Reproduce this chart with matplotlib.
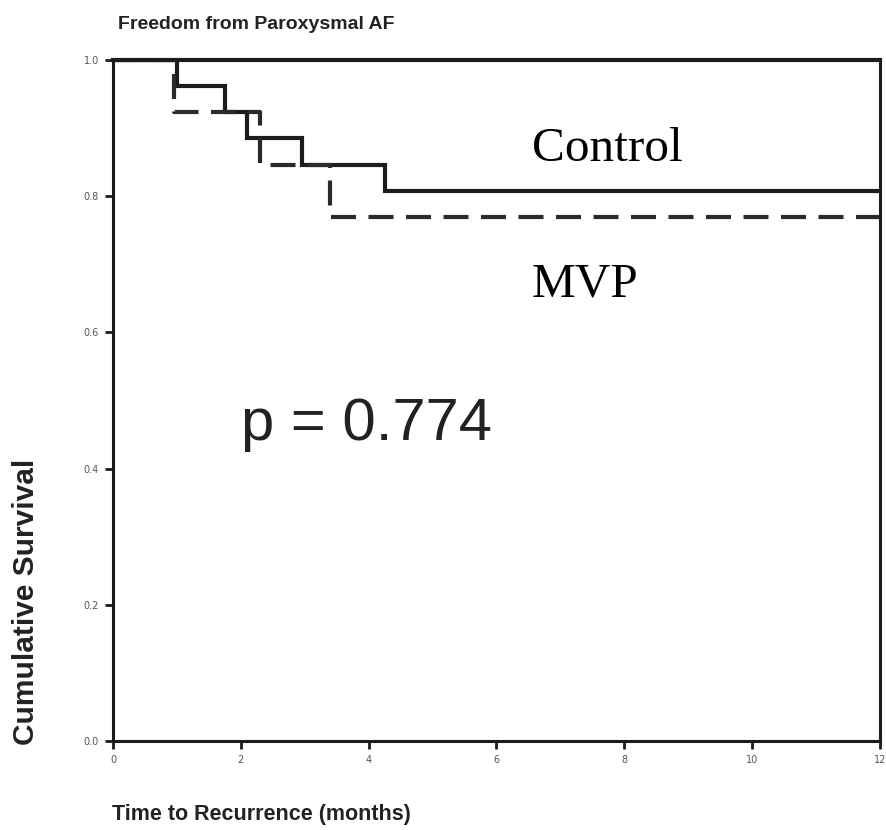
"""
Kaplan-Meier curves: freedom from paroxysmal AF, control vs MVP groups.
"""

import numpy as np
import matplotlib.pyplot as plt

# Event times (months) and survival after each event
control_times = [1.0, 1.75, 2.1, 2.95, 4.25]
control_surv = [0.962, 0.923, 0.885, 0.846, 0.808]
mvp_times = [0.95, 2.3, 3.4]
mvp_surv = [0.923, 0.846, 0.769]

follow_up = 12
x_ticks = [0, 2, 4, 6, 8, 10, 12]
y_ticks = [0.0, 0.2, 0.4, 0.6, 0.8, 1.0]
p_value = 0.774

INK = '#1c1c1c'


def km_steps(times, surv, end):
    """Build step coordinates starting from 1.0 at time 0."""
    x = [0] + list(times) + [end]
    y = [1.0] + list(surv) + [surv[-1]]
    return x, y


fig = plt.figure(figsize=(8.87, 8.3), dpi=100)
ax = fig.add_axes([0.1274, 0.1072, 0.8646, 0.8205])

cx, cy = km_steps(control_times, control_surv, follow_up)
mx, my = km_steps(mvp_times, mvp_surv, follow_up)
ax.step(cx, cy, where='post', color=INK, lw=3.0, solid_joinstyle='miter')
ax.step(mx, my, where='post', color='#2a2a2a', lw=3.0, linestyle=(0, (6, 3)))

ax.set_xlim(0, follow_up)
ax.set_ylim(0, 1.0)
ax.set_xticks(x_ticks)
ax.set_yticks(y_ticks)
ax.set_xticklabels([str(t) for t in x_ticks])
ax.set_yticklabels([f'{t:.1f}' for t in y_ticks])
ax.tick_params(direction='out', length=6, width=2, color=INK,
               labelsize=7, labelcolor='#555555', pad=4)

for side in ['left', 'bottom', 'right']:
    ax.spines[side].set_linewidth(2.2)
    ax.spines[side].set_color(INK)
ax.spines['top'].set_linewidth(3.0)
ax.spines['top'].set_color(INK)

# Group labels and log-rank p value
ax.text(7.74, 0.869, 'Control', family='Liberation Serif', fontsize=35.5,
        ha='center', va='center', color='black')
ax.text(7.38, 0.671, 'MVP', family='Liberation Serif', fontsize=35.5,
        ha='center', va='center', color='black')
ax.text(2.0, 0.465, f'p = {p_value}', family='Liberation Sans', fontsize=43,
        ha='left', va='center', color='#222222')

fig.text(0.133, 0.971, 'Freedom from Paroxysmal AF', family='Liberation Sans',
         fontsize=14, fontweight='bold', color='#222222', ha='left', va='center')
fig.text(0.126, 0.019, 'Time to Recurrence (months)', family='Liberation Sans',
         fontsize=15.5, fontweight='bold', color='#222222', ha='left', va='center')
fig.text(0.029, 0.102, 'Cumulative Survival', family='Liberation Sans',
         fontsize=21.5, fontweight='bold', color='#222222', rotation=90,
         ha='center', va='bottom')

fig.savefig('out.png', dpi=100)
